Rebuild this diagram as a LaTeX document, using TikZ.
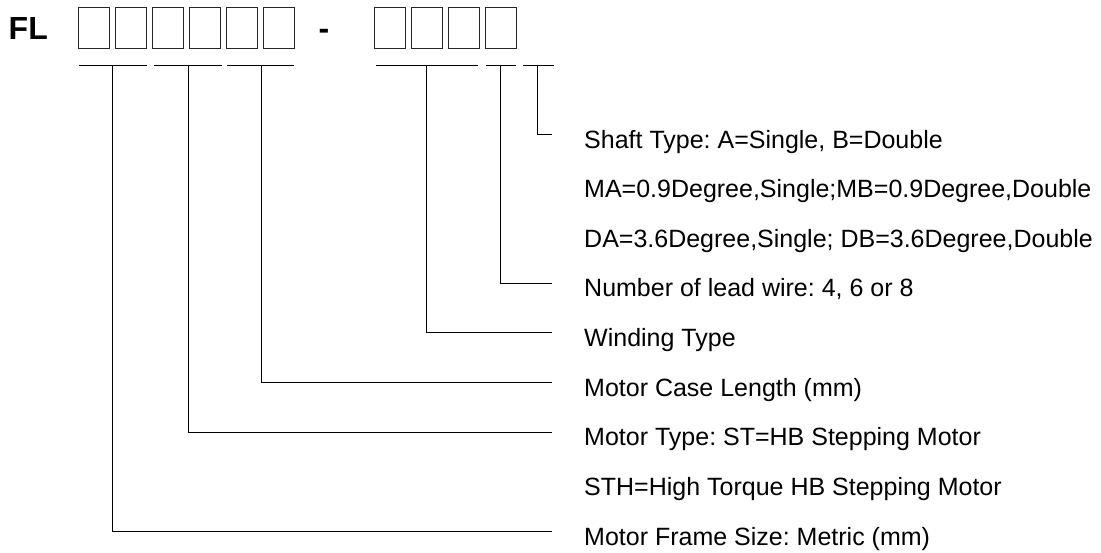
\documentclass[tikz,border=0pt]{standalone}
\usepackage{fontspec}
\setmainfont{Liberation Sans}
\frenchspacing
\usetikzlibrary{positioning,calc}
\tikzstyle{digit} = [draw=black!85, line width=1pt, minimum width=31pt,
minimum height=41.5pt, inner sep=0pt]
\tikzstyle{head} = [anchor=base west, inner sep=0pt,
font=\fontsize{32}{36}\selectfont\bfseries]
\tikzstyle{lbl} = [anchor=base west, inner sep=0pt,
font=\fontsize{25}{30}\selectfont]
\tikzstyle{lead} = [line width=1pt]

\begin{document}
\begin{tikzpicture}[x=1pt,y=-1pt]
            \useasboundingbox (0,0) rectangle (1101,553);
            \node[head] (fl) at (8.5,39.3) {FL};
            \node[head, anchor=base] (dash) at (324,39.3) {-};
            \foreach \i in {1,...,6}
              \node[digit] (a\i) at (57+37*\i,28.2) {};
            \foreach \i in {1,...,4}
              \node[digit] (b\i) at (352.5+37*\i,28.2) {};
            % underlines
            \draw [lead] (79,66) -- (147,66);
            \draw [lead] (154,66) -- (222,66);
            \draw [lead] (227,66) -- (294,66);
            \draw [lead] (376,66) -- (478,66);
            \draw [lead] (486,66) -- (516,66);
            \draw [lead] (523,66) -- (554,66);
            \coordinate (u1) at (112,66);
            \coordinate (u2) at (188,66);
            \coordinate (u3) at (261,66);
            \coordinate (u4) at (426,66);
            \coordinate (u5) at (500,66);
            \coordinate (u6) at (537,66);
            % labels
            \node[lbl] (l1) at (584,148.5) {Shaft Type: A=Single, B=Double};
            \node[lbl] (l2) at (584,198) {MA=0.9Degree,Single;MB=0.9Degree,Double};
            \node[lbl] (l3) at (584,247.5) {DA=3.6Degree,Single; DB=3.6Degree,Double};
            \node[lbl] (l4) at (584,297) {Number of lead wire: 4, 6 or 8};
            \node[lbl] (l5) at (584,346.5) {Winding Type};
            \node[lbl] (l6) at (584,396) {Motor Case Length (mm)};
            \node[lbl] (l7) at (584,445.5) {Motor Type: ST=HB Stepping Motor};
            \node[lbl] (l8) at (584,495) {STH=High Torque HB Stepping Motor};
            \node[lbl] (l9) at (584,545) {Motor Frame Size: Metric (mm)};
            % leads
            \draw [lead] (u6) |- ([shift={(-32pt,13.5pt)}]l1.base west);
            \draw [lead] (u5) |- ([shift={(-32pt,13.5pt)}]l4.base west);
            \draw [lead] (u4) |- ([shift={(-32pt,13.5pt)}]l5.base west);
            \draw [lead] (u3) |- ([shift={(-32pt,13.5pt)}]l6.base west);
            \draw [lead] (u2) |- ([shift={(-32pt,13.5pt)}]l7.base west);
            \draw [lead] (u1) |- ([shift={(-32pt,13.5pt)}]l9.base west);
        \end{tikzpicture}
\end{document}
